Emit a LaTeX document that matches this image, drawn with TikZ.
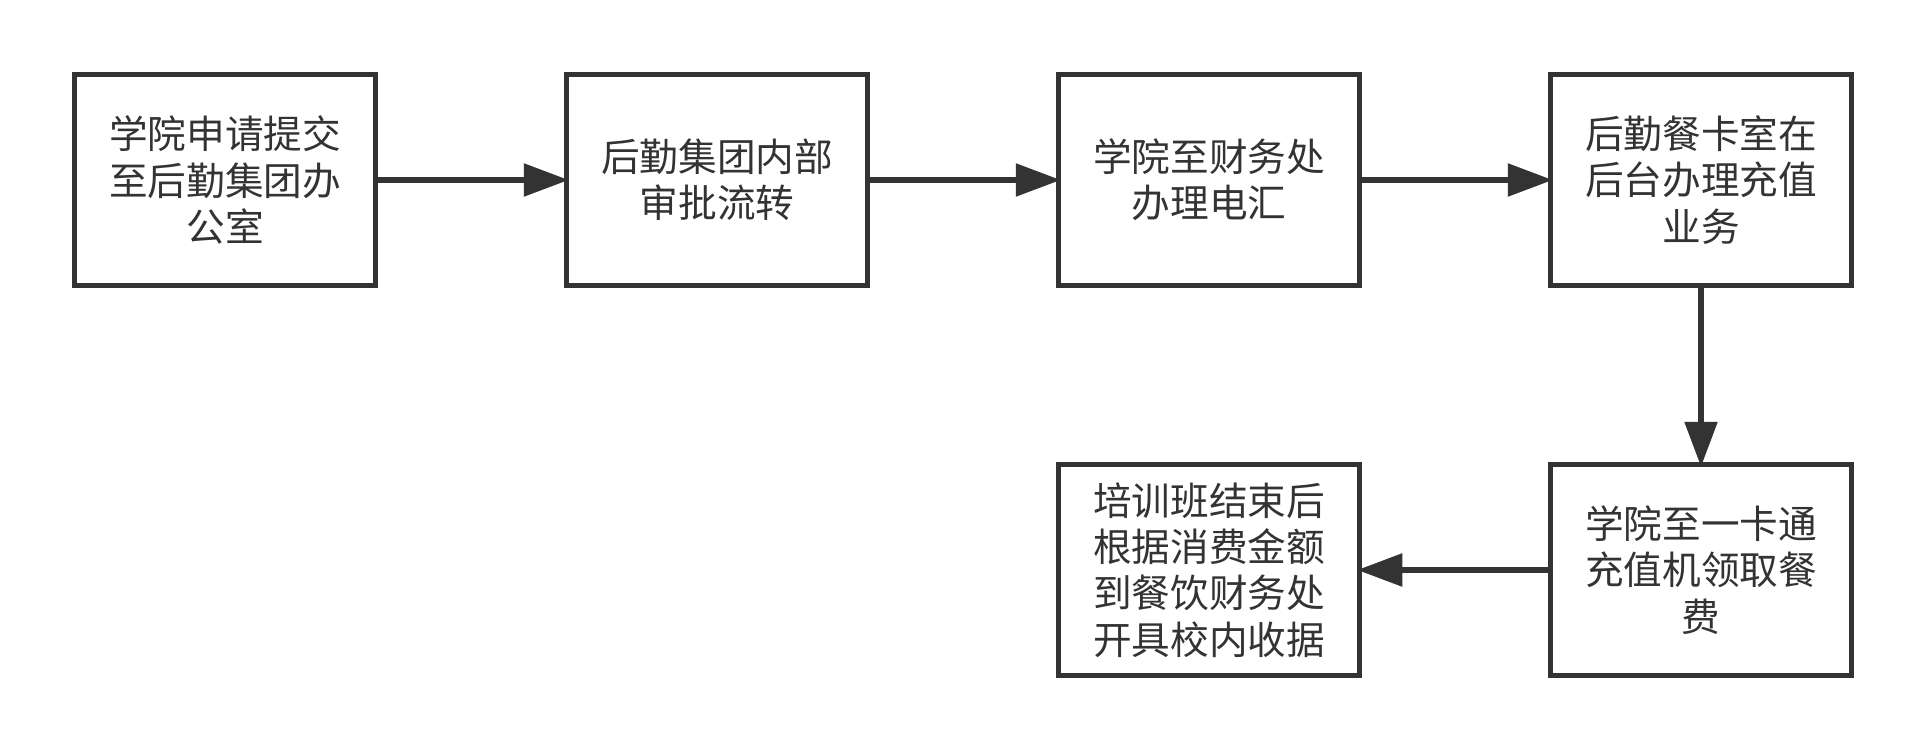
\documentclass[tikz,border=0pt]{standalone}
\usepackage{fontspec}
\usepackage{tikz}
\usetikzlibrary{arrows.meta}
\newfontfamily\cjk{Noto Sans CJK SC}
\definecolor{ink}{HTML}{333333}

\begin{document}
\begin{tikzpicture}[
  box/.style={draw=ink, line width=0.55mm, minimum width=3.01cm, minimum height=2.11cm,
    text=ink, align=center, inner sep=0pt, font=\cjk\fontsize{11}{13.2}\selectfont},
  flow/.style={draw=ink, line width=0.55mm, shorten >=-0.5mm,
    -{Triangle[length=4.5mm, width=3.2mm]}}
]
\useasboundingbox (0,0) rectangle (19.26,7.5);
\node[box](a) at (2.25,5.70){学院申请提交\\至后勤集团办\\公室};
\node[box](b) at (7.17,5.70){后勤集团内部\\审批流转};
\node[box](c) at (12.09,5.70){学院至财务处\\办理电汇};
\node[box](d) at (17.01,5.70){后勤餐卡室在\\后台办理充值\\业务};
\node[box](e) at (17.01,1.80){学院至一卡通\\充值机领取餐\\费};
\node[box](f) at (12.09,1.80){培训班结束后\\根据消费金额\\到餐饮财务处\\开具校内收据};
\foreach \from/\to in {a/b,b/c,c/d,d/e,e/f}
 \draw[flow] (\from) -- (\to);
\end{tikzpicture}
\end{document}
